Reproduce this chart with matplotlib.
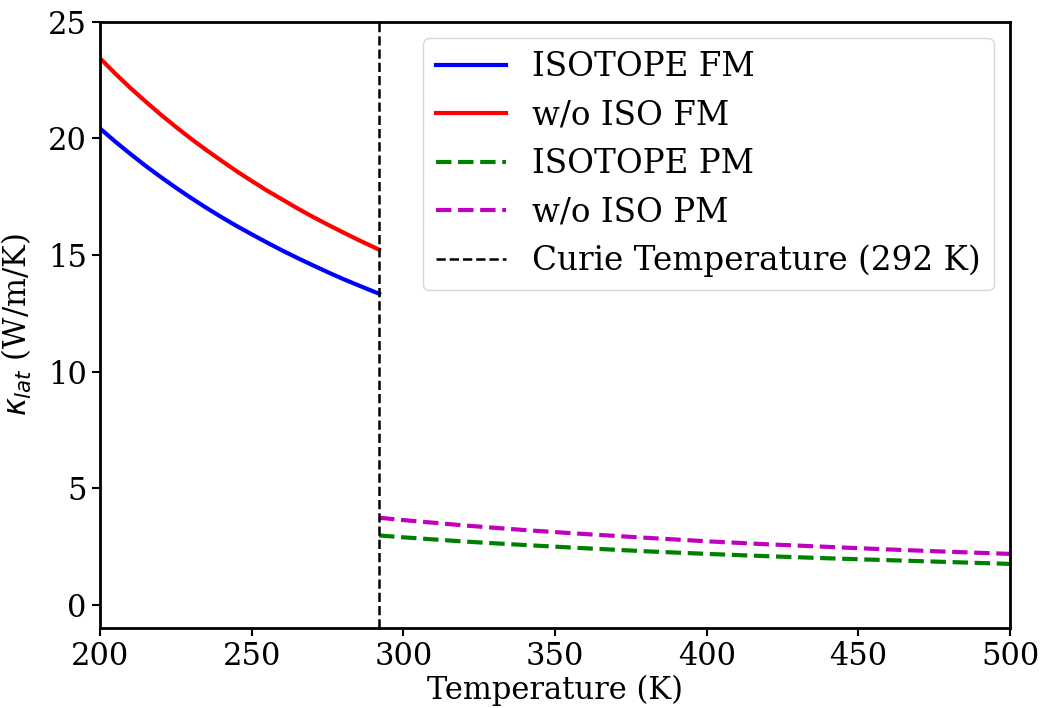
import matplotlib
matplotlib.use("Agg")
import matplotlib.pyplot as plt

# FM phase (below Curie temperature)
T_fm = [200, 205, 210, 215, 220, 225, 230, 235, 240, 245, 250, 255, 260, 265, 270, 275, 280, 285, 292]
iso_fm = [20.43, 19.87, 19.34, 18.83, 18.35, 17.89, 17.45, 17.03, 16.63, 16.25, 15.89, 15.54, 15.20, 14.88, 14.57, 14.27, 13.98, 13.71, 13.34]
woiso_fm = [23.44, 22.79, 22.17, 21.59, 21.03, 20.50, 19.99, 19.51, 19.05, 18.60, 18.18, 17.77, 17.39, 17.01, 16.65, 16.31, 15.98, 15.66, 15.23]

# PM phase (above Curie temperature)
T_pm = [292, 300, 320, 340, 360, 380, 400, 420, 440, 460, 480, 500]
iso_pm = [2.97, 2.89, 2.71, 2.56, 2.42, 2.29, 2.18, 2.08, 1.99, 1.91, 1.83, 1.75]
woiso_pm = [3.73, 3.63, 3.40, 3.20, 3.03, 2.87, 2.72, 2.59, 2.48, 2.37, 2.27, 2.18]

T_curie = 292

plt.rcParams['font.family'] = 'DejaVu Serif'
plt.rcParams['mathtext.fontset'] = 'dejavusans'

fig = plt.figure(figsize=(10.46, 7.08), dpi=100)
ax = fig.add_axes([0.0956, 0.113, 0.870, 0.856])

ax.plot(T_fm, iso_fm, color='blue', lw=3, label='ISOTOPE FM')
ax.plot(T_fm, woiso_fm, color='red', lw=3, label='w/o ISO FM')
ax.plot(T_pm, iso_pm, color='green', lw=3, ls='--', label='ISOTOPE PM')
ax.plot(T_pm, woiso_pm, color='m', lw=3, ls='--', label='w/o ISO PM')
ax.axvline(T_curie, color='black', lw=1.8, ls='--', label='Curie Temperature (292 K)')

ax.set_xlim(200, 500)
ax.set_ylim(-1, 25)
ax.set_xticks([200, 250, 300, 350, 400, 450, 500])
ax.set_yticks([0, 5, 10, 15, 20, 25])
ax.tick_params(labelsize=22, width=1.5, length=6)
for s in ax.spines.values():
    s.set_linewidth(2)

ax.set_xlabel('Temperature (K)', fontsize=22, labelpad=2)
ax.set_ylabel(r'$\kappa_{lat}$ (W/m/K)', fontsize=22, labelpad=10)
ax.legend(fontsize=23.5, loc='upper right', handlelength=2.15, labelspacing=0.5)

fig.savefig('out.png', dpi=100)
